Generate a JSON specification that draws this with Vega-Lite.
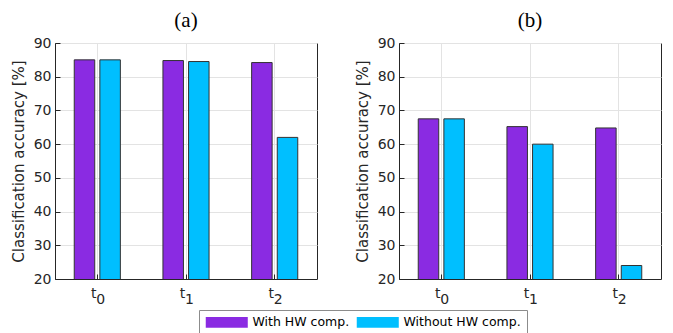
{
  "$schema": "https://vega.github.io/schema/vega-lite/v6.json",
  "padding": {"left": 10, "top": 9, "right": 6, "bottom": 0},
  "background": "white",
  "datasets": {
    "d": [
      {"panel": "a", "t": "t0", "sub": "0", "series": "With HW comp.", "value": 85.0},
      {"panel": "a", "t": "t0", "sub": "0", "series": "Without HW comp.", "value": 85.0},
      {"panel": "a", "t": "t1", "sub": "1", "series": "With HW comp.", "value": 84.8},
      {"panel": "a", "t": "t1", "sub": "1", "series": "Without HW comp.", "value": 84.5},
      {"panel": "a", "t": "t2", "sub": "2", "series": "With HW comp.", "value": 84.2},
      {"panel": "a", "t": "t2", "sub": "2", "series": "Without HW comp.", "value": 62.0},
      {"panel": "b", "t": "t0", "sub": "0", "series": "With HW comp.", "value": 67.5},
      {"panel": "b", "t": "t0", "sub": "0", "series": "Without HW comp.", "value": 67.5},
      {"panel": "b", "t": "t1", "sub": "1", "series": "With HW comp.", "value": 65.2},
      {"panel": "b", "t": "t1", "sub": "1", "series": "Without HW comp.", "value": 60.0},
      {"panel": "b", "t": "t2", "sub": "2", "series": "With HW comp.", "value": 64.8},
      {"panel": "b", "t": "t2", "sub": "2", "series": "Without HW comp.", "value": 24.0}
    ]
  },
  "config": {
    "font": "DejaVu Sans",
    "view": {"stroke": "#262626", "strokeWidth": 1},
    "axis": {
      "labelFont": "DejaVu Sans",
      "labelFontSize": 14,
      "labelColor": "#262626",
      "titleFont": "DejaVu Sans",
      "titleFontSize": 15,
      "titleFontWeight": "normal",
      "titleColor": "#262626",
      "domainColor": "#262626",
      "tickColor": "#262626",
      "gridColor": "#e3e3e3",
      "gridWidth": 1
    },
    "axisY": {"labelOverlap": false},
    "title": {"font": "Liberation Serif", "fontSize": 21, "fontWeight": "normal", "color": "black", "anchor": "middle", "offset": 5},
    "legend": {"labelFont": "DejaVu Sans", "labelFontSize": 12.5, "labelColor": "black"}
  },
  "spacing": 36,
  "hconcat": [
    {
      "title": "(a)",
      "width": 262,
      "height": 236,
      "data": {"name": "d"},
      "transform": [{"filter": "datum.panel == 'a'"}],
      "layer": [
        {
          "mark": {"type": "bar", "clip": true, "stroke": "#333333", "strokeWidth": 1},
          "encoding": {
            "x": {"field": "t", "type": "nominal", "sort": ["t0", "t1", "t2"],
                  "scale": {"paddingInner": 0.48, "paddingOuter": 0.217},
                  "axis": {"title": null, "labelAngle": 0, "labelExpr": "'t'", "labelOffset": -3.5, "tickSize": -5, "labelPadding": 12, "bandPosition": 0.5, "grid": true}},
            "xOffset": {"field": "series", "type": "nominal", "scale": {"paddingInner": 0.2, "paddingOuter": 0}},
            "y": {"field": "value", "type": "quantitative", "scale": {"domain": [20, 90], "zero": false, "nice": false},
                  "axis": {"title": "Classification accuracy [%]", "values": [20, 30, 40, 50, 60, 70, 80, 90], "tickSize": -5, "labelPadding": 9, "titlePadding": 7, "grid": true}},
            "color": {"field": "series", "type": "nominal",
                      "scale": {"domain": ["With HW comp.", "Without HW comp."], "range": ["#8a2be2", "#00bfff"]},
                      "legend": {"title": null, "orient": "none", "direction": "horizontal", "columns": 2, "legendX": 144, "legendY": 267,
                                 "symbolType": "M-1,-0.955H6.64V0.955H-1Z", "symbolSize": 121, "symbolStrokeWidth": 0, "symbolOpacity": 1,
                                 "strokeColor": "#8c8c8c", "fillColor": "white", "padding": 6, "columnPadding": 6, "labelOffset": 35}}
          }
        },
        {
          "transform": [{"filter": "datum.series == 'With HW comp.'"}],
          "mark": {"type": "text", "font": "DejaVu Sans", "fontSize": 14, "color": "#262626", "baseline": "alphabetic", "align": "center", "dx": 3.5, "dy": 25, "clip": false},
          "encoding": {
            "x": {"field": "t", "type": "nominal", "sort": ["t0", "t1", "t2"]},
            "y": {"datum": 20, "type": "quantitative",
                  "axis": {"title": "Classification accuracy [%]", "values": [20, 30, 40, 50, 60, 70, 80, 90], "tickSize": -5, "labelPadding": 9, "titlePadding": 7, "grid": true}},
            "text": {"field": "sub"}
          }
        }
      ]
    },
    {
      "title": "(b)",
      "width": 262,
      "height": 236,
      "data": {"name": "d"},
      "transform": [{"filter": "datum.panel == 'b'"}],
      "layer": [
        {
          "mark": {"type": "bar", "clip": true, "stroke": "#333333", "strokeWidth": 1},
          "encoding": {
            "x": {"field": "t", "type": "nominal", "sort": ["t0", "t1", "t2"],
                  "scale": {"paddingInner": 0.48, "paddingOuter": 0.217},
                  "axis": {"title": null, "labelAngle": 0, "labelExpr": "'t'", "labelOffset": -3.5, "tickSize": -5, "labelPadding": 12, "bandPosition": 0.5, "grid": true}},
            "xOffset": {"field": "series", "type": "nominal", "scale": {"paddingInner": 0.2, "paddingOuter": 0}},
            "y": {"field": "value", "type": "quantitative", "scale": {"domain": [20, 90], "zero": false, "nice": false},
                  "axis": {"title": "Classification accuracy [%]", "values": [20, 30, 40, 50, 60, 70, 80, 90], "tickSize": -5, "labelPadding": 9, "titlePadding": 7, "grid": true}},
            "color": {"field": "series", "type": "nominal",
                      "scale": {"domain": ["With HW comp.", "Without HW comp."], "range": ["#8a2be2", "#00bfff"]},
                      "legend": null}
          }
        },
        {
          "transform": [{"filter": "datum.series == 'With HW comp.'"}],
          "mark": {"type": "text", "font": "DejaVu Sans", "fontSize": 14, "color": "#262626", "baseline": "alphabetic", "align": "center", "dx": 3.5, "dy": 25, "clip": false},
          "encoding": {
            "x": {"field": "t", "type": "nominal", "sort": ["t0", "t1", "t2"]},
            "y": {"datum": 20, "type": "quantitative",
                  "axis": {"title": "Classification accuracy [%]", "values": [20, 30, 40, 50, 60, 70, 80, 90], "tickSize": -5, "labelPadding": 9, "titlePadding": 7, "grid": true}},
            "text": {"field": "sub"}
          }
        }
      ]
    }
  ],
  "resolve": {"scale": {"x": "independent", "y": "independent"}}
}
